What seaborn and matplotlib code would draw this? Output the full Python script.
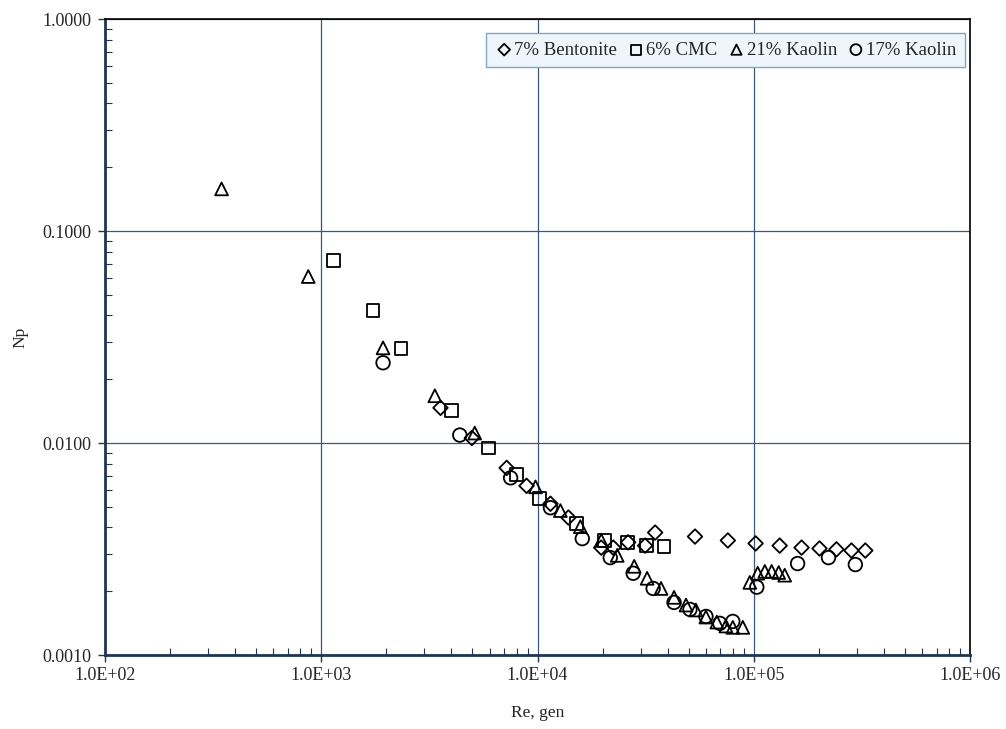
import numpy as np
import pandas as pd
import matplotlib
matplotlib.use("Agg")
import matplotlib.pyplot as plt
import seaborn as sns
from matplotlib.ticker import FuncFormatter, LogLocator, NullFormatter

# ---- data ----
bent_re = [3560, 4970, 7200, 8900, 11480, 13900, 19700, 22400, 26250, 31450, 35000,
           53500, 75900, 102000, 131800, 166400, 201400, 241200, 283000, 328000]
bent_np = [0.01465, 0.01056, 0.00763, 0.00628, 0.00517, 0.00445, 0.00321, 0.00321, 0.00340, 0.00328, 0.00378,
           0.00362, 0.00347, 0.00336, 0.00328, 0.00321, 0.00318, 0.00315, 0.00311, 0.00311]

cmc_re = [1136, 1736, 2337, 4016, 5943, 8000, 10210, 15130, 20360, 26000, 31790, 38470]
cmc_np = [0.0725, 0.0420, 0.0280, 0.01428, 0.00947, 0.00708, 0.00546, 0.00417, 0.00347, 0.00340, 0.00328, 0.00325]

k21_re = [346, 871, 1931, 3352, 5125, 9790, 12760, 15780, 19720, 23370, 28000, 32130, 37260, 42800,
          48600, 54000, 60100, 67500, 74300, 80000, 89000, 95900, 104300, 112500, 121000, 130400, 139000]
k21_np = [0.158, 0.0610, 0.0281, 0.01670, 0.01114, 0.00621, 0.00480, 0.00403, 0.00347, 0.00295, 0.00262,
          0.00230, 0.00206, 0.00187, 0.00172, 0.00163, 0.00151, 0.00143, 0.00137, 0.00135, 0.00135,
          0.00220, 0.00243, 0.00248, 0.00248, 0.00245, 0.00238]

k17_re = [1931, 4372, 7510, 11480, 16110, 21700, 27700, 34260, 42800, 50700, 60100, 69700, 80000,
          103300, 159500, 221600, 295000]
k17_np = [0.02390, 0.0109, 0.00685, 0.00495, 0.00354, 0.00288, 0.00243, 0.00206, 0.00177, 0.00164,
          0.00152, 0.00141, 0.00144, 0.00209, 0.00270, 0.00288, 0.00267]

series_names = ["7% Bentonite", "6% CMC", "21% Kaolin", "17% Kaolin"]
series_markers = ["D", "s", "^", "o"]

frames = []
for name, xs, ys in zip(series_names, [bent_re, cmc_re, k21_re, k17_re],
                        [bent_np, cmc_np, k21_np, k17_np]):
    frames.append(pd.DataFrame({"Re": xs, "Np": ys, "Fluid": name}))
df = pd.concat(frames, ignore_index=True)

sns.set_style("white")
plt.rcParams["font.family"] = ["Liberation Serif", "DejaVu Serif"]

fig = plt.figure(figsize=(10.06, 7.29), dpi=100)
ax = fig.add_axes([105 / 1006, 1 - 655 / 729, 865 / 1006, 636 / 729])

sizes = {"7% Bentonite": 55, "6% CMC": 85, "21% Kaolin": 85, "17% Kaolin": 95}
for name, mk in zip(series_names, series_markers):
    sub = df[df["Fluid"] == name]
    sns.scatterplot(data=sub, x="Re", y="Np", ax=ax, marker=mk, s=sizes[name],
                    facecolor="none", edgecolor="black", linewidth=1.3, label=name,
                    zorder=3)

ax.set_xscale("log")
ax.set_yscale("log")
ax.set_xlim(1e2, 1e6)
ax.set_ylim(1e-3, 1)

ax.xaxis.set_major_locator(LogLocator(base=10, numticks=10))
ax.yaxis.set_major_locator(LogLocator(base=10, numticks=10))
ax.xaxis.set_minor_locator(LogLocator(base=10, subs=np.arange(2, 10), numticks=100))
ax.yaxis.set_minor_locator(LogLocator(base=10, subs=np.arange(2, 10), numticks=100))
ax.xaxis.set_minor_formatter(NullFormatter())
ax.yaxis.set_minor_formatter(NullFormatter())


def xfmt(v, pos):
    e = int(round(np.log10(v)))
    return "1.0E+%02d" % e


ax.xaxis.set_major_formatter(FuncFormatter(xfmt))
ax.yaxis.set_major_formatter(FuncFormatter(lambda v, p: "%.4f" % v))

ax.grid(True, which="major", color="#3b5a78", linewidth=0.9)
ax.grid(False, which="minor")
ax.set_axisbelow(True)

ax.tick_params(axis="both", which="major", direction="out", length=5, width=1,
               color="#1f3550", labelsize=13, bottom=True, left=True)
ax.tick_params(axis="x", which="major", pad=4)
ax.tick_params(axis="y", which="major", pad=5)
ax.tick_params(axis="both", which="minor", direction="in", length=5, width=0.8,
               color="#1f3550", bottom=True, left=True)

for side in ["top", "right"]:
    ax.spines[side].set_color("black")
    ax.spines[side].set_linewidth(1.2)
for side in ["left", "bottom"]:
    ax.spines[side].set_color("#1f3550")
    ax.spines[side].set_linewidth(2.0)

ax.set_xlabel("Re, gen", fontsize=12.5, labelpad=15)
ax.set_ylabel("Np", fontsize=12.5, labelpad=10)

leg = ax.legend(loc="upper right", ncol=4, fontsize=13.5, frameon=True, fancybox=False,
                handletextpad=0.05, columnspacing=0.5, borderpad=0.45, handlelength=1.0,
                bbox_to_anchor=(965 / 1006, 1 - 33 / 729), bbox_transform=fig.transFigure,
                borderaxespad=0.0, markerscale=0.8)
leg.get_frame().set_facecolor("#eef6fc")
leg.get_frame().set_edgecolor("#7fa8c8")
leg.get_frame().set_linewidth(1.0)
leg.get_frame().set_alpha(1)

fig.savefig("out.png", dpi=100)
